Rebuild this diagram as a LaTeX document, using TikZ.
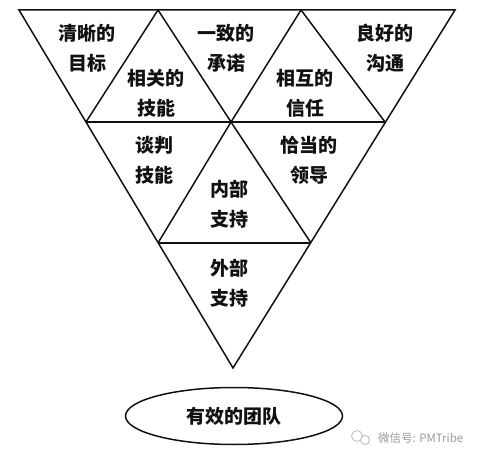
\documentclass[tikz,border=0pt]{standalone}
\usepackage{fontspec}
\usepackage{xcolor}
\usetikzlibrary{shapes.geometric}
\newfontfamily\cjk{Noto Sans CJK SC}
\definecolor{ink}{HTML}{111111}
\definecolor{markgray}{HTML}{9A9A9A}

\begin{document}
\begin{tikzpicture}[x=1pt,y=-1pt,
    edge/.style={ink,line width=1.5pt,line join=miter},
    cell/.style={font=\cjk\bfseries\fontsize{19}{30}\selectfont,text=ink,align=center,inner sep=0pt}]
      \useasboundingbox (0,0) rectangle (488,452);
      % corner points of the triangles
      \coordinate (a0) at (19,10);
      \coordinate (a1) at (158,10);
      \coordinate (a2) at (301,10);
      \coordinate (a3) at (455,10);
      \coordinate (b0) at (86,122);
      \coordinate (b1) at (231,122);
      \coordinate (b2) at (385,122);
      \coordinate (c0) at (158,243);
      \coordinate (c1) at (311,243);
      \coordinate (d) at (233,368);
      % outline of the big triangle
      \draw[edge] (a0) -- (a3) -- (d) -- cycle;
      % row lines
      \draw[edge] (b0) -- (b2);
      \draw[edge] (c0) -- (c1);
      % diagonals
      \draw[edge] (a1) -- (b1) -- (c1);
      \draw[edge] (a2) -- (b1) -- (c0);
      \draw[edge] (a1) -- (b0);
      \draw[edge] (a2) -- (b2);
      % top row
      \node[cell] (goal) at (87,48) {清晰的\\目标};
      \node[cell] (skill) at (156,93) {相关的\\技能};
      \node[cell] (commit) at (226,48) {一致的\\承诺};
      \node[cell] (trust) at (305,93) {相互的\\信任};
      \node[cell] (comm) at (385,48) {良好的\\沟通};
      % middle row
      \node[cell] (nego) at (154,160) {谈判\\技能};
      \node[cell] (inner) at (229,204) {内部\\支持};
      \node[cell] (lead) at (309,160) {恰当的\\领导};
      % bottom row
      \node[cell] (outer) at (229,283) {外部\\支持};
      % result
      \node[cell,draw=ink,line width=1.5pt,ellipse,minimum width=217pt,minimum height=57pt]
        (team) at (234,416) {有效的团队};
      % watermark
      \draw[markgray!70,line width=0.8pt] (357,436) circle (5.5);
      \draw[markgray!70,line width=0.8pt,fill=white] (365,440) circle (4.5);
      \node[font=\cjk\fontsize{11.5}{13}\selectfont,text=markgray,anchor=west,inner sep=0pt]
        (mark) at (378,438) {微信号: PMTribe};
    \end{tikzpicture}
\end{document}
